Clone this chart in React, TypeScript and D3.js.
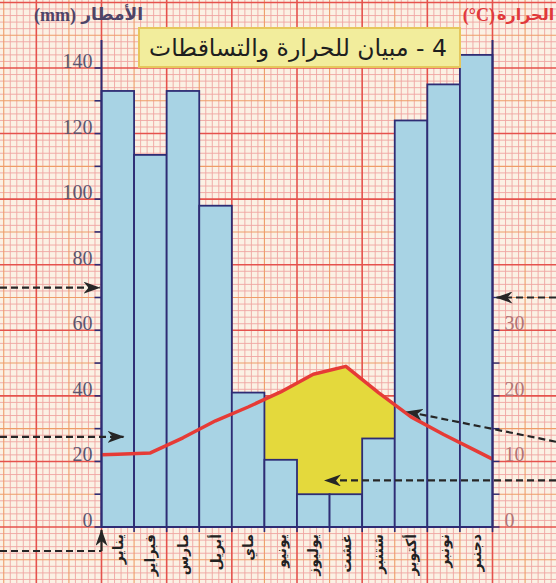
import * as d3 from 'd3';

// Moroccan month names, rainfall (mm) and mean temperature (°C)
const months = ['يناير', 'فبراير', 'مارس', 'أبريل', 'ماي', 'يونيو', 'يوليوز', 'غشت', 'شتنبر', 'أكتوبر', 'نونبر', 'دجنبر'];
const precipitation = [133, 113.5, 133, 98, 41, 20.5, 10, 10, 27, 124, 135, 144];
const temperature = [11.1, 11.3, 13.6, 16.2, 18.3, 20.6, 23.3, 24.5, 20.5, 16.8, 14.1, 11.6];
const precipTicks = [0, 20, 40, 60, 80, 100, 120, 140];
const tempTicks = [0, 10, 20, 30];

const W = 556;
const H = 583;
const X0 = 101.5;
const X1 = 492.5;

const App = () => {
  const x = d3.scaleBand<string>().domain(months).range([X0, X1]).padding(0);
  const bw = x.bandwidth();
  const y = d3.scaleLinear().domain([0, 140]).range([527, 68]);
  // P = 2T, so the temperature axis is the rain axis halved
  const yT = d3.scaleLinear().domain([0, 70]).range([527, 68]);
  const cell = bw / 5;

  // graph paper
  const hLines = d3.range(-28, 172, 2).map(mm => ({ pos: y(mm), kind: mm % 20 === 0 ? 2 : mm % 10 === 0 ? 1 : 0 }));
  const vLines = d3.range(-16, 71).map(k => ({ pos: X0 + k * cell, kind: k % 10 === 0 ? 2 : k % 5 === 0 ? 1 : 0 }));
  const gridColor = ['#efa5a2', '#ee9d68', '#e5524d'];
  const gridWidth = [0.9, 1.1, 1.6];

  // temperature curve through month centres, extended to the frame
  const pts: [number, number][] = months.map((m, i) => [x(m)! + bw / 2, temperature[i]]);
  const n = pts.length;
  const slopeL = (pts[1][1] - pts[0][1]) / (pts[1][0] - pts[0][0]);
  const slopeR = (pts[n - 1][1] - pts[n - 2][1]) / (pts[n - 1][0] - pts[n - 2][0]);
  const full: [number, number][] = [
    [X0, pts[0][1] - slopeL * (pts[0][0] - X0)],
    ...pts,
    [X1, pts[n - 1][1] + slopeR * (X1 - pts[n - 1][0])],
  ];
  const line = d3.line<[number, number]>().x(d => d[0]).y(d => yT(d[1]))(full)!;
  const dry = d3.area<[number, number]>().x(d => d[0]).y0(y(0)).y1(d => yT(d[1]))(full)!;

  const navy = '#2e2c74';
  const dash = { stroke: '#262626', strokeWidth: 2.2, strokeDasharray: '7 4', fill: 'none', markerEnd: 'url(#arrow)' };

  return (
    <div style={{ position: 'fixed', left: 0, top: 0 }}>
      <svg width={W} height={H} style={{ display: 'block' }}>
        <defs>
          <marker id="arrow" markerUnits="userSpaceOnUse" markerWidth="18" markerHeight="12" refX="16" refY="6" orient="auto">
            <path d="M0,0 L17,6 L0,12 L5,6 Z" fill="#262626" />
          </marker>
        </defs>
        <rect width={W} height={H} fill="#fbf1e4" />
        {[0, 1, 2].map(k => (
          <g key={k} stroke={gridColor[k]} strokeWidth={gridWidth[k]}>
            {hLines.filter(l => l.kind === k).map((l, i) => <line key={i} x1={0} x2={W} y1={l.pos} y2={l.pos} />)}
            {vLines.filter(l => l.kind === k).map((l, i) => <line key={i} x1={l.pos} x2={l.pos} y1={0} y2={H} />)}
          </g>
        ))}

        <path d={dry} fill="#e4d93c" />

        {months.map((m, i) => (
          <rect key={m} x={x(m)} y={y(precipitation[i])} width={bw} height={y(0) - y(precipitation[i])}
            fill="#a8d3e4" stroke={navy} strokeWidth={1.8} />
        ))}

        <path d={line} fill="none" stroke="#e63b36" strokeWidth={3.5} strokeLinejoin="round" />

        {/* axes */}
        <line x1={X0} x2={X0} y1={40} y2={y(0)} stroke={navy} strokeWidth={2} />
        <line x1={X1} x2={X1} y1={40} y2={y(0)} stroke={navy} strokeWidth={2} />
        <line x1={X0} x2={X1} y1={y(0)} y2={y(0)} stroke={navy} strokeWidth={2.2} />
        {d3.range(0, 150, 10).map(v => (
          <line key={v} x1={X0 - 7} x2={X0} y1={y(v)} y2={y(v)} stroke={navy} strokeWidth={1.6} />
        ))}
        {d3.range(0, 40, 5).map(v => (
          <line key={v} x1={X1} x2={X1 + 7} y1={yT(v)} y2={yT(v)} stroke={navy} strokeWidth={1.4} />
        ))}
        {months.map(m => (
          <line key={m} x1={x(m)! + bw} x2={x(m)! + bw} y1={y(0)} y2={y(0) + 5} stroke={navy} strokeWidth={1.6} />
        ))}

        <g fontFamily="'Liberation Serif', serif" fontSize={20} fill="#5b5670" textAnchor="end">
          {precipTicks.map(v => <text key={v} x={X0 - 9} y={y(v)}>{v}</text>)}
        </g>
        <g fontFamily="'Liberation Serif', serif" fontSize={20} fill="#b27474">
          {tempTicks.map(v => <text key={v} x={X1 + 12} y={yT(v)}>{v}</text>)}
        </g>

        <g fontFamily="'DejaVu Sans', sans-serif" fontSize={14} fontWeight="bold" fill="#222" textAnchor="end">
          {months.map(m => (
            <text key={m} transform={`translate(${x(m)! + bw / 2},${y(0) + 7}) rotate(-90)`} dominantBaseline="central">{m}</text>
          ))}
        </g>

        {/* axis titles */}
        <text x={143} y={20} textAnchor="end" fontFamily="'DejaVu Sans', sans-serif" fontWeight="bold" fontSize={17} fill="#4d4468">الأمطار</text>
        <text x={76} y={21} textAnchor="end" fontFamily="'Liberation Serif', serif" fontWeight="bold" fontSize={18} fill="#4d4468">(mm)</text>
        <text x={497} y={20} fontFamily="'DejaVu Sans', sans-serif" fontWeight="bold" fontSize={16} fill="#e0393b">الحرارة</text>
        <text x={495} y={21} textAnchor="end" fontFamily="'Liberation Serif', serif" fontWeight="bold" fontSize={18} fill="#e0393b">(°C)</text>

        {/* exercise pointers */}
        <path d={`M0,${y(73)} H${X0 - 2}`} {...dash} />
        <path d={`M0,${y(27.5)} H${X0 + 22}`} {...dash} />
        <path d={`M0,${y(0) + 24} H${X0}`} stroke="#262626" strokeWidth={2.2} strokeDasharray="7 4" fill="none" />
        <path d={`M${X0},${y(0) + 24} V${y(0) + 3}`} {...dash} strokeDasharray="none" />
        <path d={`M${W},${yT(35)} H${X1 + 4}`} {...dash} />
        <path d={`M${W},${yT(13)} L${x('أكتوبر')! + 12},${yT(17.6)}`} {...dash} />
        <path d={`M${W},${y(14.2)} H${x('يوليوز')! + 28}`} {...dash} />

        {/* title */}
        <rect x={139} y={28} width={321} height={39} fill="#f2ed9c" stroke="#e6c75c" strokeWidth={2} />
        <text x={298} y={56} textAnchor="middle" direction="rtl" fontFamily="'DejaVu Sans', sans-serif" fontSize={23.5} fill="#1e1e1e">4 - مبيان للحرارة والتساقطات</text>
      </svg>
    </div>
  );
};

export default App;
